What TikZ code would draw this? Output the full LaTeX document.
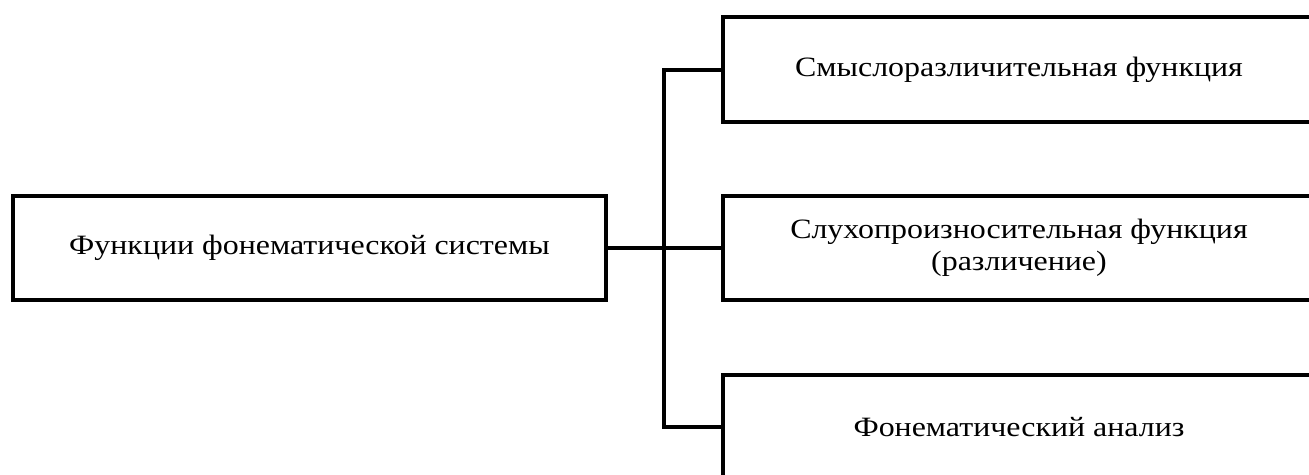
\documentclass[tikz,border=0pt]{standalone}
\usepackage{fontspec}
\setmainfont{Liberation Serif}[FakeStretch=1.14]
\begin{document}
\begin{tikzpicture}[x=1pt,y=-1pt,
  box/.style={draw,line width=4pt,rectangle,inner sep=0pt,outer sep=0pt,align=center,
    font=\fontsize{28}{32}\selectfont},
  conn/.style={line width=4pt,line join=miter}]
\useasboundingbox (0,0) rectangle (1309,474);
\clip (0,0) rectangle (1309,474);
\node[box,minimum width=593pt,minimum height=104pt] (L) at (309.5,248) {Функции фонематической системы};
\node[box,minimum width=592pt,minimum height=105pt] (A) at (1019,69.5) {Смыслоразличительная функция};
\node[box,minimum width=592pt,minimum height=104pt] (B) at (1019,248) {Слухопроизносительная функция\\(различение)};
\node[box,minimum width=592pt,minimum height=104pt] (C) at (1019,427) {Фонематический анализ};
\coordinate (jt) at (664,69.5);
\draw[conn] (L.east) -- (B.west);
\draw[conn] (A.west) -- (A.west -| jt) |- (C.west);
\end{tikzpicture}
\end{document}
